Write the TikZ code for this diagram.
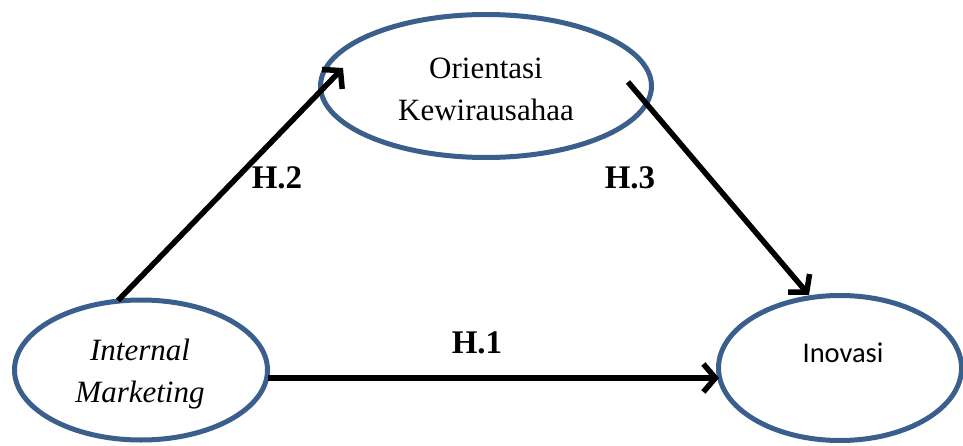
\documentclass[tikz,border=0pt]{standalone}
\usepackage{fontspec}
\setmainfont{Liberation Serif}
\newfontfamily\calibri{Carlito}
\usetikzlibrary{shapes.geometric,arrows.meta}
\definecolor{ellblue}{RGB}{58,95,140}
\begin{document}
\begin{tikzpicture}[x=1pt,y=1pt,
  ell/.style={ellipse, draw=ellblue, line width=5pt, inner sep=0pt},
  conn/.style={line width=5.5pt, -{Straight Barb[length=12pt,width=28pt,line width=5.5pt]}},
  hyp/.style={font=\fontsize{33}{38}\selectfont\bfseries, inner sep=0pt},
  lab/.style={font=\fontsize{31}{42}\selectfont, align=center, inner sep=0pt}]
\useasboundingbox (0,0) rectangle (963,445);
% ellipses
\node[ell, minimum width=331pt, minimum height=143pt] (ok) at (486,359) {};
\node[ell, minimum width=253pt, minimum height=140pt] (im) at (141,75) {};
\node[ell, minimum width=243pt, minimum height=145pt] (in) at (840,77) {};
% texts
\node[lab] (okt) at ([yshift=-3pt]ok.center) {Orientasi\\Kewirausahaa};
\node[lab, font=\fontsize{31}{42}\selectfont\itshape] (imt) at ([xshift=-1pt,yshift=-4pt]im.center) {Internal\\Marketing};
\node[inner sep=0pt, font=\fontsize{28.5}{34}\selectfont\calibri] (int) at ([xshift=3pt,yshift=15pt]in.center) {Inovasi};
% hypothesis labels
\node[hyp] (h2) at (277,267) {H.2};
\node[hyp] (h3) at (630,267) {H.3};
\node[hyp] (h1) at (477,102) {H.1};
% connectors
\draw[conn] ([xshift=-23pt,yshift=-3pt]im.north) -- ([xshift=25pt,yshift=18pt]ok.west);
\draw[conn] ([xshift=-26pt,yshift=4pt]ok.east) -- ([xshift=-31pt,yshift=-2pt]in.north);
\draw[conn] ([xshift=-2pt,yshift=-8pt]im.east) -- ([xshift=3pt,yshift=-10pt]in.west);
\end{tikzpicture}
\end{document}
